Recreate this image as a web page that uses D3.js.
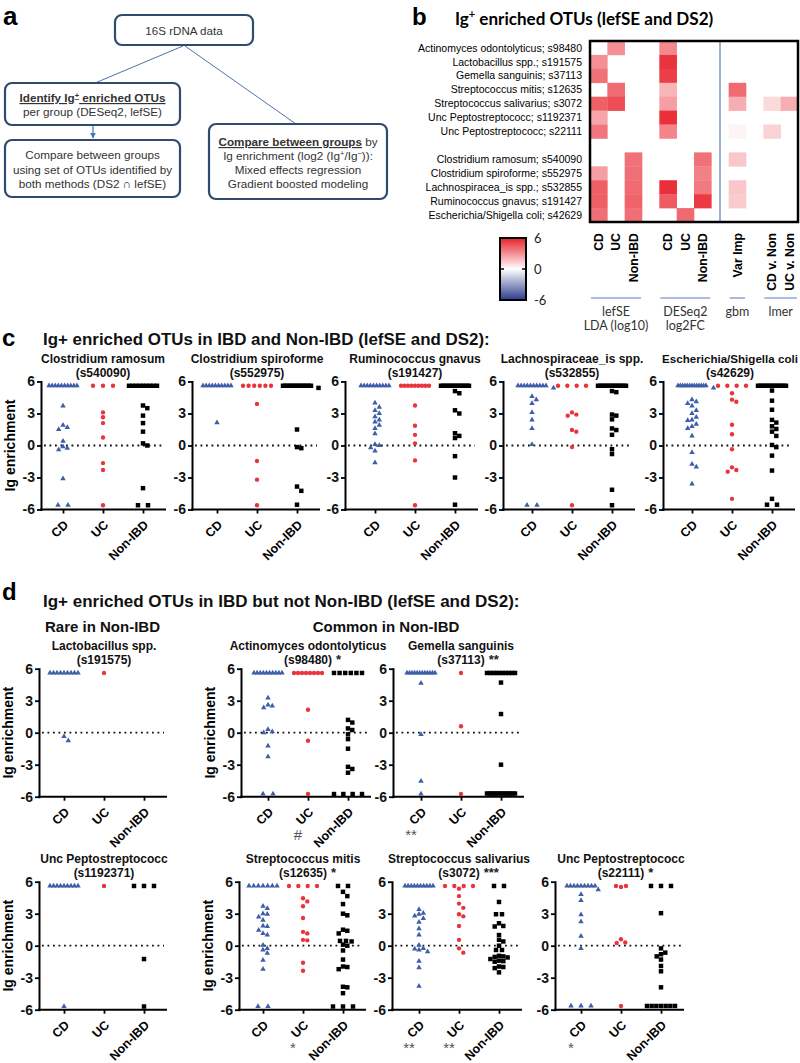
<!DOCTYPE html>
<html><head><meta charset="utf-8">
<script src="https://cdn.jsdelivr.net/npm/d3@7/dist/d3.min.js"></script>
<style>html,body{margin:0;padding:0;background:#fff;} svg{display:block;}</style>
</head><body>
<svg id="fig" width="800" height="1063"></svg>
<script>
// ================= DATA =================
// Panel b heatmap
const heatRows = ["Actinomyces odontolyticus; s98480","Lactobacillus spp.; s191575","Gemella sanguinis; s37113",
  "Streptococcus mitis; s12635","Streptococcus salivarius; s3072","Unc Peptostreptococc; s1192371",
  "Unc Peptostreptococc; s22111","","Clostridium ramosum; s540090","Clostridium spiroforme; s552975",
  "Lachnospiracea_is spp.; s532855","Ruminococcus gnavus; s191427","Escherichia/Shigella coli; s42629"];
const heatCols = ["CD","UC","Non-IBD","","CD","UC","Non-IBD","","Var Imp","","CD v. Non","UC v. Non"];
const heatGroupLabels = [["lefSE","LDA (log10)"],["DESeq2","log2FC"],["gbm"],["lmer"]];
const heatGroupCols = [[0,2],[4,6],[8,8],[10,11]];
const heatVals = [
  [0,3.0,0,null,3.2,0,0,null,0,null,0,0],
  [3.0,0,0,null,5.5,0,0,null,0,null,0,0],
  [3.8,0,0,null,5.2,0,0,null,0,null,0,0],
  [0,4.0,0,null,2.0,0,0,null,4.0,null,0,0],
  [4.3,4.8,0,null,2.6,0,0,null,2.2,null,1.0,2.2],
  [2.4,0,0,null,5.6,0,0,null,0,null,0,0],
  [3.7,0,0,null,3.3,0,0,null,0.3,null,1.2,0],
  null,
  [0,0,3.8,null,0,0,3.8,null,1.5,null,0,0],
  [2.6,0,3.9,null,0,0,3.4,null,0,null,0,0],
  [4.3,0,4.0,null,5.6,0,3.6,null,1.5,null,0,0],
  [4.3,0,4.2,null,4.4,0,5.3,null,1.4,null,0,0],
  [3.9,0,3.9,null,0,4.0,0,null,0,null,0,0]
];
const colorbarTicks = [6,0,-6];

// Panels c and d
const groups = ["CD","UC","Non-IBD"];
const yTicks = [6,3,0,-3,-6];

const ramosumCD  = [5.6,5.6,5.6,5.6,5.6,5.6,5.6,5.6,5.6,5.6,3.7,1.9,1.7,1.5,0.4,-0.1,-0.25,-0.4,-3.1,-5.6,-5.6];
const ramosumUC  = [5.6,5.6,5.6,3.1,2.65,2.1,0.75,-1.65,-2.3,-5.6];
const ramosumNon = [5.6,5.6,5.6,5.6,5.6,5.6,5.6,5.6,5.6,3.75,3.5,2.8,2.1,1.3,0.2,0.0,-4.0,-5.6,-5.6];

const spiroCD  = [5.6,5.6,5.6,5.6,5.6,5.6,5.6,5.6,5.6,5.6,2.15];
const spiroUC  = [5.6,5.6,5.6,5.6,5.6,5.6,3.9,-1.45,-3.2,-5.6];
const spiroNon = [5.6,5.6,5.6,5.6,5.6,5.6,5.6,5.6,5.6,5.6,5.6,5.6,5.6,5.6,5.4,1.5,-0.15,-0.25,-3.85,-4.25,-5.55];

const gnavusCD  = [5.6,5.6,5.6,5.6,5.6,5.6,5.6,5.6,5.6,5.6,4.0,3.6,3.3,3.0,2.7,2.4,2.2,1.9,1.6,1.1,0.1,0.0,-0.2,-0.5,-1.6];
const gnavusUC  = [5.6,5.6,5.6,5.6,5.6,5.6,5.6,5.6,5.6,3.75,1.85,1.0,0.2,-1.4,-5.6];
const gnavusNon = [5.6,5.6,5.6,5.6,5.6,5.6,5.6,5.6,5.6,5.6,5.6,5.6,5.6,5.6,5.1,4.9,3.3,3.0,1.15,0.9,0.7,-1.0,-3.0,-5.55];

const lachnoCD  = [5.6,5.6,5.6,5.6,5.6,5.6,5.6,5.6,5.6,5.6,5.4,4.6,4.3,3.95,3.1,2.4,1.6,0.1,-5.6,-5.6];
const lachnoUC  = [5.6,5.6,5.6,5.6,3.1,2.9,2.8,1.45,1.3,-0.15,-5.6];
const lachnoNon = [5.6,5.6,5.6,5.6,5.6,5.6,5.6,5.6,5.6,5.6,5.6,5.6,5.6,5.6,5.1,5.0,2.9,2.8,2.45,1.6,1.45,1.0,-0.35,-0.8,-4.15,-5.6];

const ecoliCD  = [5.6,5.6,5.6,5.6,5.6,5.6,5.6,5.6,5.6,5.6,5.6,5.6,5.6,5.4,4.3,4.1,3.95,3.7,3.3,3.0,2.65,2.4,2.35,2.0,1.8,1.6,0.9,-0.65,-1.75,-2.0,-3.6];
const ecoliUC  = [5.6,5.6,5.6,5.6,4.9,4.3,4.1,1.95,1.05,-0.35,-2.05,-2.3,-2.45,-5.0];
const ecoliNon = [5.6,5.6,5.6,5.6,5.6,5.6,5.6,5.6,5.6,5.6,5.6,5.6,5.6,5.6,5.15,4.2,3.35,2.4,2.15,1.8,1.55,1.3,0.9,0.05,-0.15,-0.95,-2.35,-5.0,-5.55,-5.55];

const lactoCD  = [5.6,5.6,5.6,5.6,5.6,5.6,5.6,5.6,5.6,-0.35,-0.75];
const lactoUC  = [5.6];
const lactoNon = [];

const actinoCD  = [5.6,5.6,5.6,5.6,5.6,5.6,5.6,5.6,5.6,5.6,3.25,2.6,2.5,2.35,0.3,0.1,0.0,-1.25,-2.25,-5.75,-5.75];
const actinoUC  = [5.6,5.6,5.6,5.6,5.6,5.6,5.6,5.6,2.15,-0.75,-5.75];
const actinoNon = [5.6,5.6,5.6,5.6,5.6,5.6,1.2,0.95,0.4,0.25,-0.15,-0.6,-1.5,-3.2,-3.4,-3.75,-5.75,-5.75,-5.75,-5.75];

const gemellaCD  = [5.6,5.6,5.6,5.6,5.6,5.6,5.6,5.6,5.6,5.6,5.6,5.6,4.65,-0.15,-4.55,-5.75];
const gemellaUC  = [5.6,0.6,-5.75];
const gemellaNon = [5.6,5.6,5.6,5.6,5.6,5.6,5.6,5.6,5.6,5.6,4.7,1.75,-3.0,-5.7,-5.7,-5.7,-5.7,-5.7,-5.7,-5.7,-5.7,-5.7,-5.7,-5.7,-5.7,-5.7];

const unc1CD  = [5.6,5.6,5.6,5.6,5.6,5.6,5.6,5.6,5.6,-5.7];
const unc1UC  = [5.6];
const unc1Non = [5.6,5.6,5.6,-1.25,-5.7];

const mitisCD  = [5.6,5.6,5.6,5.6,5.6,5.6,5.6,3.7,3.5,3.0,2.95,2.7,2.4,1.85,1.8,1.45,1.15,1.0,0.05,-0.25,-0.4,-0.7,-1.35,-2.2,-5.7,-5.7];
const mitisUC  = [5.6,5.6,5.6,5.6,4.45,4.15,3.7,2.6,1.3,1.15,0.55,0.5,-1.6,-2.35];
const mitisNon = [5.6,5.6,5.05,4.65,3.9,3.0,2.85,1.5,1.4,1.15,0.45,0.45,0.4,0.1,0.0,-0.45,-1.3,-1.95,-2.0,-2.2,-3.85,-3.9,-4.45,-5.7,-5.7,-5.7];

const salivCD  = [5.6,5.6,5.6,5.6,5.6,5.6,5.6,5.6,5.6,5.6,3.4,3.05,2.95,2.8,2.55,2.2,1.6,1.0,0.05,-0.25,-0.3,-0.4,-0.55,-1.45,-2.05,-3.8];
const salivUC  = [5.6,5.6,5.6,5.6,5.35,4.65,3.95,3.55,2.95,2.75,1.85,0.55,-0.25,-0.65];
const salivNon = [5.6,5.6,4.1,2.95,2.95,2.1,1.85,1.8,1.0,0.55,0.4,0.0,-0.4,-0.4,-0.95,-1.0,-1.05,-1.1,-1.25,-1.4,-1.45,-1.5,-1.95,-2.0,-2.1,-2.5];

const unc2CD  = [5.6,5.6,5.6,5.6,5.6,5.6,5.6,5.6,5.6,5.25,4.8,4.25,2.9,2.25,0.9,-0.25,-5.65,-5.65,-5.65];
const unc2UC  = [5.6,5.6,5.5,0.6,0.3,0.25,-5.65];
const unc2Non = [5.6,5.6,5.6,3.05,-0.25,-0.65,-0.8,-1.0,-1.3,-1.9,-2.4,-3.9,-5.65,-5.65,-5.65,-5.65,-5.65,-5.65,-5.65];

// ================= DRAWING =================
const svg = d3.select("#fig");
const SANS = "'Liberation Sans', Arial, Helvetica, sans-serif";
const CAL = "Lato, 'Open Sans', sans-serif";
svg.attr("font-family", SANS);

function T(g, x, y, s, o = {}) {
  const t = g.append("text").attr("x", x).attr("y", y).text(s);
  t.attr("font-size", o.size || 12);
  if (o.bold) t.attr("font-weight", "bold");
  if (o.anchor) t.attr("text-anchor", o.anchor);
  t.attr("fill", o.fill || "#000");
  if (o.family) t.attr("font-family", o.family);
  return t;
}
function fitWidth(t, w) {
  const c = t.node().getComputedTextLength();
  if (c > 0) t.attr("font-size", parseFloat(t.attr("font-size")) * w / c);
}
function maxWidth(t, w) {
  const c = t.node().getComputedTextLength();
  if (c > w) t.attr("font-size", parseFloat(t.attr("font-size")) * w / c);
}

// ---------- Panel a ----------
const A = svg.append("g");
T(A, 3, 25, "a", {size: 26, bold: true});
const defs = svg.append("defs");
defs.append("marker").attr("id", "arr").attr("viewBox", "0 0 10 10").attr("refX", 9).attr("refY", 5)
  .attr("markerWidth", 5).attr("markerHeight", 5).attr("orient", "auto")
  .append("path").attr("d", "M0,0L10,5L0,10z").attr("fill", "#4472c4");
const connC = "#4f73a6";
A.append("line").attr("x1", 183).attr("y1", 46).attr("x2", 95).attr("y2", 83).attr("stroke", connC).attr("stroke-width", 1);
A.append("line").attr("x1", 185).attr("y1", 46).attr("x2", 296).attr("y2", 124).attr("stroke", connC).attr("stroke-width", 1);
A.append("line").attr("x1", 93).attr("y1", 126).attr("x2", 93).attr("y2", 138).attr("stroke", "#4472c4").attr("stroke-width", 1.2).attr("marker-end", "url(#arr)");
const boxC = "#2f4b6e";
[[115,15,138,30],[5,83,175,42],[5,140,175,57],[209,124,178,75]].forEach(b => {
  A.append("rect").attr("x", b[0]).attr("y", b[1]).attr("width", b[2]).attr("height", b[3]).attr("rx", 7)
    .attr("fill", "#fff").attr("stroke", boxC).attr("stroke-width", 2.2);
});
const aTxt = "#333";
T(A, 184, 35, "16S rDNA data", {size: 11.6, anchor: "middle", fill: aTxt});
{
  const t = A.append("text").attr("x", 92.5).attr("y", 102).attr("text-anchor", "middle").attr("font-size", 11.7)
    .attr("font-weight", "bold").attr("fill", aTxt).attr("text-decoration", "underline");
  t.append("tspan").text("Identify Ig");
  t.append("tspan").text("+").attr("font-size", 7.5).attr("dy", -4);
  t.append("tspan").text(" enriched OTUs").attr("dy", 4);
}
T(A, 92.5, 116, "per group (DESeq2,  lefSE)", {size: 11.7, anchor: "middle", fill: aTxt});
T(A, 92.5, 159, "Compare between groups", {size: 11.7, anchor: "middle", fill: aTxt});
T(A, 92.5, 174, "using set of OTUs identified by", {size: 11.7, anchor: "middle", fill: aTxt});
T(A, 92.5, 188, "both methods (DS2 \u2229 lefSE)", {size: 11.7, anchor: "middle", fill: aTxt});
{
  const t = A.append("text").attr("x", 298).attr("y", 146).attr("text-anchor", "middle").attr("font-size", 11.7).attr("fill", aTxt);
  t.append("tspan").text("Compare between groups").attr("font-weight", "bold").attr("text-decoration", "underline");
  t.append("tspan").text(" by");
  const t2 = A.append("text").attr("x", 298).attr("y", 160).attr("text-anchor", "middle").attr("font-size", 11.7).attr("fill", aTxt);
  t2.append("tspan").text("Ig enrichment (log2 (Ig");
  t2.append("tspan").text("+").attr("font-size", 7.5).attr("dy", -4);
  t2.append("tspan").text("/Ig").attr("dy", 4);
  t2.append("tspan").text("\u2212").attr("font-size", 7.5).attr("dy", -4);
  t2.append("tspan").text(")):").attr("dy", 4);
}
T(A, 298, 174, "Mixed effects regression", {size: 11.7, anchor: "middle", fill: aTxt});
T(A, 298, 188, "Gradient boosted modeling", {size: 11.7, anchor: "middle", fill: aTxt});

// ---------- Panel b ----------
const B = svg.append("g");
T(B, 412, 25, "b", {size: 24, bold: true});
{
  const t = B.append("text").attr("x", 455).attr("y", 25).attr("font-family", CAL).attr("font-weight", "bold").attr("font-size", 18);
  t.append("tspan").text("Ig");
  t.append("tspan").text("+").attr("font-size", 11).attr("dy", -7);
  t.append("tspan").text(" enriched OTUs (lefSE and DS2)").attr("dy", 7);
  fitWidth(t, 258);
  t.selectAll("tspan").filter((d, i) => i === 1).attr("font-size", 11);
}
const hmX = d3.scaleBand().domain(d3.range(heatCols.length)).range([590, 798]);
const hmY = d3.scaleBand().domain(d3.range(heatRows.length)).range([41, 222]);
const hmColor = d3.scaleLinear().domain([-6, 0, 6]).range(["#2b3a8c", "#ffffff", "#e8202a"]);
heatVals.forEach((row, i) => {
  if (!row) return;
  row.forEach((v, j) => {
    if (v == null || v === 0) return;
    B.append("rect").attr("x", hmX(j)).attr("y", hmY(i)).attr("width", hmX.bandwidth() + 0.3)
      .attr("height", hmY.bandwidth() + 0.3).attr("fill", hmColor(v));
  });
});
B.append("line").attr("x1", hmX(7) + hmX.bandwidth() / 2).attr("x2", hmX(7) + hmX.bandwidth() / 2)
  .attr("y1", 41).attr("y2", 222).attr("stroke", "#7b96c4").attr("stroke-width", 1.5);
B.append("rect").attr("x", 590).attr("y", 41).attr("width", 208).attr("height", 181)
  .attr("fill", "none").attr("stroke", "#000").attr("stroke-width", 2.5);
heatRows.forEach((r, i) => {
  if (!r) return;
  T(B, 582, hmY(i) + hmY.bandwidth() / 2, r, {size: 10.5, anchor: "end"}).attr("dy", "0.35em");
});
heatCols.forEach((c, j) => {
  if (!c) return;
  B.append("text").attr("transform", `translate(${hmX(j) + hmX.bandwidth() / 2},233) rotate(-90)`)
    .attr("text-anchor", "end").attr("dy", "0.36em").attr("font-size", 12.3).attr("font-weight", "bold").text(c);
});
heatGroupCols.forEach((gc, k) => {
  const x0 = hmX(gc[0]) + 1, x1 = hmX(gc[1]) + hmX.bandwidth() - 1, xm = (x0 + x1) / 2;
  B.append("line").attr("x1", x0).attr("x2", x1).attr("y1", 298).attr("y2", 298).attr("stroke", "#8fa9d6").attr("stroke-width", 1.6);
  heatGroupLabels[k].forEach((lab, li) => T(B, xm, 316 + li * 14, lab, {size: 12.5, anchor: "middle", family: CAL, fill: "#333"}));
});
// colorbar
const grad = defs.append("linearGradient").attr("id", "cbar").attr("x1", 0).attr("x2", 0).attr("y1", 0).attr("y2", 1);
d3.range(0, 1.0001, 0.1).forEach(f => grad.append("stop").attr("offset", f).attr("stop-color", hmColor(6 - 12 * f)));
const cbY = d3.scaleLinear().domain([-6, 6]).range([300, 238]);
B.append("rect").attr("x", 500).attr("y", 238).attr("width", 26).attr("height", 62).attr("fill", "url(#cbar)")
  .attr("stroke", "#000").attr("stroke-width", 2);
B.append("line").attr("x1", 500).attr("x2", 504).attr("y1", cbY(0)).attr("y2", cbY(0)).attr("stroke", "#000").attr("stroke-width", 1.5);
B.append("line").attr("x1", 522).attr("x2", 526).attr("y1", cbY(0)).attr("y2", cbY(0)).attr("stroke", "#000").attr("stroke-width", 1.5);
colorbarTicks.forEach(v => T(B, 534, cbY(v), String(v), {size: 13, family: CAL, fill: "#222"}).attr("dy", "0.35em"));

// ---------- Panels c & d : scatter subplots ----------
const ptColors = ["#3f5ea8", "#e8343c", "#000"];
const ptSymbols = [d3.symbolTriangle, d3.symbolCircle, d3.symbolSquare];
const ptSizes = [13, 15, 20];

function swarm(vals, cx, y) {
  const pts = [];
  const singles = [];
  d3.groups(vals, v => v).forEach(([v, arr]) => {
    if (arr.length > 1) {
      const n = arr.length;
      const maxSp = Math.abs(v) > 5.4 ? 10 : 6;
      const sp = Math.min(maxSp, 28 / (n - 1));
      arr.forEach((_, i) => pts.push({v, x: cx + (i - (n - 1) / 2) * sp, y: y(v)}));
    } else singles.push(v);
  });
  singles.sort((a, b) => b - a).forEach(v => {
    const py = y(v), d = 4.3;
    let off = 0;
    for (let k = 0; k < 30; k++) {
      const cands = k === 0 ? [0] : [k * d, -k * d];
      const ok = cands.find(o => !pts.some(p => Math.hypot(p.x - (cx + o), p.y - py) < d));
      if (ok !== undefined) { off = ok; break; }
    }
    pts.push({v, x: cx + off, y: py});
  });
  return pts;
}

function subplot(g, sp, yr) {
  const y = d3.scaleLinear().domain([-6, 6]).range([yr[1], yr[0]]);
  const x = d3.scalePoint().domain(groups).range([sp.ax + sp.pad, sp.ax + sp.pad + 80]);
  const xEnd = sp.ax + sp.pad + 102;
  g.append("line").attr("x1", sp.ax + 3).attr("x2", xEnd - 2).attr("y1", y(0)).attr("y2", y(0))
    .attr("stroke", "#111").attr("stroke-width", 1.8).attr("stroke-dasharray", "1.8 3.7");
  const ya = g.append("g").attr("transform", `translate(${sp.ax},0)`)
    .call(d3.axisLeft(y).tickValues(yTicks).tickSize(4).tickSizeOuter(0).tickPadding(2).tickFormat(d => String(d)));
  ya.select(".domain").attr("stroke-width", 2).attr("stroke-linecap", "square");
  ya.selectAll(".tick line").attr("stroke-width", 1.8);
  ya.selectAll(".tick text").attr("font-size", 14).attr("font-weight", "bold").attr("font-family", SANS).attr("fill", "#111");
  const xa = g.append("g").attr("transform", `translate(0,${yr[1]})`)
    .call(d3.axisBottom(x).tickSize(4).tickSizeOuter(0).tickFormat(""));
  xa.select(".domain").attr("d", `M${sp.ax},0H${xEnd}`).attr("stroke-width", 2).attr("stroke-linecap", "square");
  xa.selectAll(".tick line").attr("stroke-width", 1.8);
  groups.forEach(c => {
    g.append("text").attr("transform", `translate(${x(c) + 3},${yr[1] + 13}) rotate(-45)`)
      .attr("text-anchor", "end").attr("dy", "0.35em").attr("font-size", 12.5).attr("font-weight", "bold").text(c);
  });
  if (sp.ylab) {
    g.append("text").attr("transform", `translate(${sp.ax - 26.5},${y(0)}) rotate(-90)`).attr("text-anchor", "middle")
      .attr("font-size", 14).attr("font-weight", "bold").text("Ig enrichment");
  }
  sp.vals.forEach((vals, k) => {
    const pts = swarm(vals, x(groups[k]), y);
    const sym = d3.symbol().type(ptSymbols[k]).size(ptSizes[k]);
    g.selectAll(null).data(pts).join("path").attr("d", sym)
      .attr("transform", d => `translate(${d.x},${d.y})`).attr("fill", ptColors[k]);
  });
  const cx = sp.tx || x("UC");
  const tt = T(g, cx, yr[0] - 18.5, sp.title, {size: 12, bold: true, anchor: "middle", fill: "#111"});
  if (sp.tw) maxWidth(tt, sp.tw);
  const idT = T(g, cx, yr[0] - 4.5, sp.id, {size: 12, bold: true, anchor: "middle", fill: "#111"});
  if (sp.stars) {
    const w = idT.node().getComputedTextLength();
    T(g, cx + w / 2 + 4, yr[0] - 4.5, sp.stars, {size: 13, bold: true, fill: "#222"});
  }
  (sp.notes || []).forEach(n => T(g, x(n.cat) - 10, yr[1] + 43, n.t, {size: 15, anchor: "middle", fill: "#555"}));
}

// Panel c
const C = svg.append("g");
T(C, 2, 346, "c", {size: 24, bold: true});
fitWidth(T(C, 43, 345, "Ig+ enriched OTUs in IBD and Non-IBD (lefSE and DS2):", {size: 17, bold: true, fill: "#111"}), 447);
const rowC = [381.5, 509.5];
[
  {title: "Clostridium ramosum", id: "(s540090)", ax: 41, pad: 22, ylab: true, vals: [ramosumCD, ramosumUC, ramosumNon]},
  {title: "Clostridium spiroforme", id: "(s552975)", ax: 192, pad: 25, vals: [spiroCD, spiroUC, spiroNon]},
  {title: "Ruminococcus gnavus", id: "(s191427)", ax: 345, pad: 30, vals: [gnavusCD, gnavusUC, gnavusNon]},
  {title: "Lachnospiraceae_is spp.", id: "(s532855)", ax: 503, pad: 29, vals: [lachnoCD, lachnoUC, lachnoNon]},
  {title: "Escherichia/Shigella coli", id: "(s42629)", ax: 663, pad: 29, tx: 730, tw: 136, vals: [ecoliCD, ecoliUC, ecoliNon]}
].forEach(sp => subplot(C.append("g"), sp, rowC));

// Panel d
const D = svg.append("g");
T(D, 2, 600, "d", {size: 24, bold: true});
fitWidth(T(D, 43, 607, "Ig+ enriched OTUs in IBD but not Non-IBD (lefSE and DS2):", {size: 17, bold: true, fill: "#111"}), 477);
T(D, 45, 632, "Rare in Non-IBD", {size: 15, bold: true, fill: "#111"});
T(D, 386, 632, "Common in Non-IBD", {size: 15, bold: true, anchor: "middle", fill: "#111"});
const rowD1 = [668.7, 796.7], rowD2 = [881.7, 1009.7];
[
  {title: "Lactobacillus spp.", id: "(s191575)", ax: 39, pad: 25, ylab: true, vals: [lactoCD, lactoUC, lactoNon]},
  {title: "Actinomyces odontolyticus", id: "(s98480)", stars: "*", ax: 241, pad: 27, ylab: true, vals: [actinoCD, actinoUC, actinoNon], notes: [{cat: "UC", t: "#"}]},
  {title: "Gemella sanguinis", id: "(s37113)", stars: "**", ax: 393, pad: 28, vals: [gemellaCD, gemellaUC, gemellaNon], notes: [{cat: "CD", t: "**"}]}
].forEach(sp => subplot(D.append("g"), sp, rowD1));
[
  {title: "Unc Peptostreptococc", id: "(s1192371)", ax: 39, pad: 25, ylab: true, vals: [unc1CD, unc1UC, unc1Non]},
  {title: "Streptococcus mitis", id: "(s12635)", stars: "*", ax: 239, pad: 24, ylab: true, vals: [mitisCD, mitisUC, mitisNon], notes: [{cat: "UC", t: "*"}]},
  {title: "Streptococcus salivarius", id: "(s3072)", stars: "***", ax: 392, pad: 27, vals: [salivCD, salivUC, salivNon], notes: [{cat: "CD", t: "**"}, {cat: "UC", t: "**"}]},
  {title: "Unc Peptostreptococc", id: "(s22111)", stars: "*", ax: 555, pad: 26, vals: [unc2CD, unc2UC, unc2Non], notes: [{cat: "CD", t: "*"}]}
].forEach(sp => subplot(D.append("g"), sp, rowD2));
</script>
</body></html>
